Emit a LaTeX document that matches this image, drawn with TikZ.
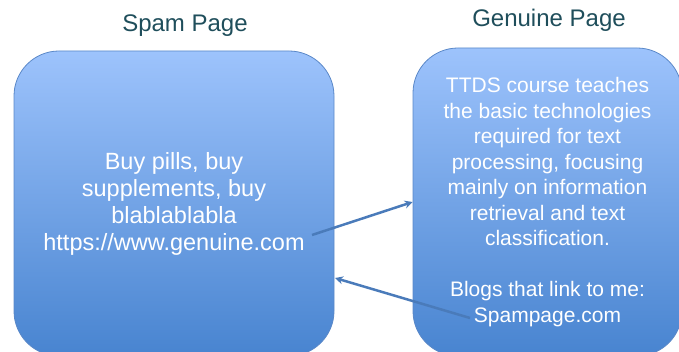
\documentclass[tikz,border=0pt]{standalone}
\usepackage{fontspec}
\setmainfont{Liberation Sans}
\usetikzlibrary{arrows.meta}
\definecolor{titlec}{HTML}{1F4E5B}
\definecolor{boxtop}{HTML}{9DC3FC}
\definecolor{boxbot}{HTML}{4884D0}
\definecolor{boxline}{HTML}{5A88C8}
\definecolor{arrowc}{HTML}{4A7BBA}
\begin{document}
\begin{tikzpicture}[x=1pt,y=1pt,
  page/.style={draw=boxline, line width=0.8pt, rounded corners=45pt,
    top color=boxtop, bottom color=boxbot, text=white, align=center, inner sep=0pt},
  pagetitle/.style={text=titlec, font=\fontsize{24}{28}\selectfont, anchor=base, inner sep=0pt},
  link/.style={draw=arrowc, line width=2.5pt, -{Stealth[length=8pt,width=8pt]}}]
\clip (0,0) rectangle (679,-352);
\node[page, minimum width=320pt, minimum height=305pt,
  font=\fontsize{23.5}{27}\selectfont] (spam) at (174,-203.5)
  {Buy pills, buy\\supplements, buy\\blablablabla\\https://www.genuine.com};
\node[page, minimum width=269pt, minimum height=308pt,
  font=\fontsize{21}{25.5}\selectfont] (genuine) at (547.5,-202)
  {TTDS course teaches\\the basic technologies\\required for text\\processing, focusing\\mainly on information\\retrieval and text\\classification.\\[25.5pt]Blogs that link to me:\\Spampage.com};
\node[pagetitle] (spamtitle) at (185,-32) {Spam Page};
\node[pagetitle] (genuinetitle) at (549,-27) {Genuine Page};
\coordinate (l1start) at (312,-235);
\coordinate (l2start) at (470,-318);
\coordinate (l2end) at (335,-278);
\draw[link] (l1start) -- (genuine.west);
\draw[link] (l2start) -- (l2end);
\end{tikzpicture}
\end{document}
